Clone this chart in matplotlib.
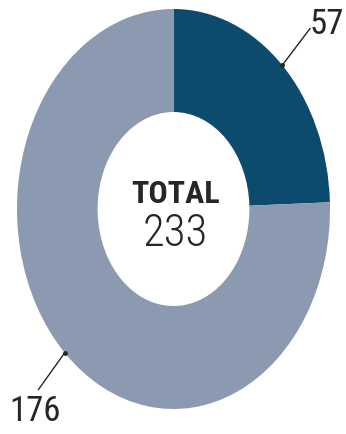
import numpy as np
import matplotlib
matplotlib.use("Agg")
import matplotlib.pyplot as plt

# Donut data
values = [57, 176]
colors = ["#0c4a6e", "#8b9ab1"]
total_label = "TOTAL"

# Label placement (data coords of the unit donut) and leader-line ends
label_pos = [(0.98, 0.93), (-0.885, -1.01)]
line_end = [(0.875, 0.905), (-0.865, -0.905)]

narrow = ["Roboto Condensed", "Liberation Sans Narrow", "DejaVu Sans"]
text_color = "#262626"

fig = plt.figure(figsize=(3.46, 4.35), dpi=100)
ax = fig.add_axes([17 / 346, 25 / 435, 313 / 346, 400 / 435])

wedges, _ = ax.pie(values, colors=colors, startangle=90, counterclock=False,
                   radius=1.0, wedgeprops=dict(width=0.515, linewidth=0))
ax.set_aspect("auto")
ax.set_xlim(-1, 1)
ax.set_ylim(-1, 1)
ax.axis("off")

for w, v, (tx, ty), (lx, ly) in zip(wedges, values, label_pos, line_end):
    mid = np.deg2rad((w.theta1 + w.theta2) / 2)
    ax_, ay_ = np.cos(mid), np.sin(mid)
    ax.plot([ax_, lx], [ay_, ly], color=text_color, lw=1.0, clip_on=False,
            solid_capstyle="butt")
    ax.plot([ax_], [ay_], "o", ms=2.5, color=text_color, clip_on=False)
    ax.text(tx, ty, f"{v}", ha="center", va="center", fontsize=25,
            family=narrow, fontstretch="condensed", color=text_color,
            clip_on=False)

ax.text(0.01, 0.08, total_label, ha="center", va="center", fontsize=23,
        fontweight="bold", family=narrow, fontstretch="condensed",
        color=text_color)
ax.text(0.01, -0.12, f"{sum(values)}", ha="center", va="center", fontsize=32,
        family=narrow, fontstretch="condensed", fontweight="light",
        color=text_color)

fig.savefig("out.png", dpi=100)
